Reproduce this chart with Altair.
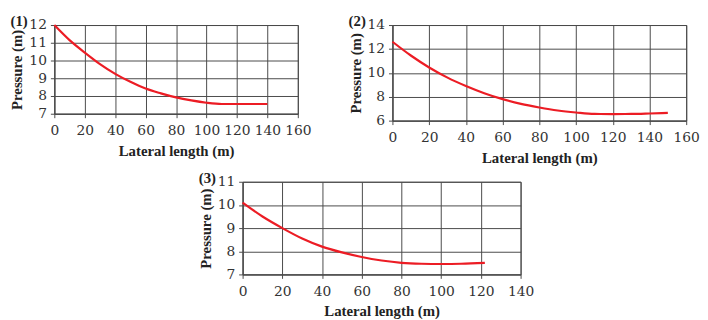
import altair as alt
import pandas as pd

# Panel (1)
x1 = [0, 10, 20, 30, 40, 50, 60, 70, 80, 90, 100, 110, 120, 130, 140]
y1 = [12.0, 11.15, 10.45, 9.8, 9.25, 8.8, 8.42, 8.15, 7.92, 7.75, 7.62, 7.55, 7.55, 7.55, 7.55]
# Panel (2)
x2 = [0, 10, 20, 30, 40, 50, 60, 70, 80, 90, 100, 110, 120, 130, 140, 150]
y2 = [12.6, 11.45, 10.45, 9.6, 8.9, 8.3, 7.8, 7.4, 7.1, 6.85, 6.68, 6.56, 6.55, 6.56, 6.6, 6.65]
# Panel (3)
x3 = [0, 10, 20, 30, 40, 50, 60, 70, 80, 90, 100, 110, 122]
y3 = [10.1, 9.5, 9.0, 8.55, 8.2, 7.95, 7.75, 7.6, 7.5, 7.46, 7.45, 7.46, 7.5]

labels = ["(1)", "(2)", "(3)"]

TICKFONT = "DejaVu Serif"
TITLEFONT = "Liberation Serif"
GRID = "#4a4a4a"
RED = "#ec1c24"


def panel(xs, ys, xdom, xstep, ydom, yticks, w, h, label):
    df = pd.DataFrame({"x": xs, "y": ys})
    xticks = list(range(xdom[0], xdom[1] + 1, xstep))
    line = alt.Chart(df).mark_line(color=RED, strokeWidth=2.2, interpolate="monotone").encode(
        x=alt.X("x:Q", scale=alt.Scale(domain=xdom, nice=False),
                axis=alt.Axis(values=xticks, title="Lateral length (m)", format="d",
                              labelPadding=6, titlePadding=6)),
        y=alt.Y("y:Q", scale=alt.Scale(domain=ydom, nice=False, zero=False),
                axis=alt.Axis(values=yticks, title="Pressure (m)", format="d",
                              labelPadding=4, titlePadding=4)),
    )
    lab = alt.Chart(pd.DataFrame({"t": [label]})).mark_text(
        font=TITLEFONT, fontWeight="bold", fontSize=15, align="right", baseline="bottom", color="#222"
    ).encode(text="t:N", x=alt.value(-27), y=alt.value(4))
    return alt.layer(line, lab).properties(width=w, height=h)


p1 = panel(x1, y1, [0, 160], 20, [7, 12], [7, 8, 9, 10, 11, 12], 247, 90, labels[0])
p2 = panel(x2, y2, [0, 160], 20, [6, 14], [6, 8, 10, 12, 14], 298, 97, labels[1])
p3 = panel(x3, y3, [0, 140], 20, [7, 11], [7, 8, 9, 10, 11], 282, 94, labels[2])

# empty spacer to push the third panel to the right
spacer = alt.Chart(pd.DataFrame({"t": [0]})).mark_point(opacity=0).encode(
    x=alt.value(0), y=alt.value(0)
).properties(width=144, height=1, view=alt.ViewBackground(stroke="transparent"))

chart = alt.vconcat(
    alt.hconcat(p1, p2, spacing=36),
    alt.hconcat(spacer, p3, spacing=0),
    spacing=4,
).configure(background="white", padding={"left": 1, "top": 3, "right": 0, "bottom": 0}).configure_view(
    stroke=GRID, strokeWidth=1
).configure_axis(
    grid=True, gridColor=GRID, gridOpacity=1, gridWidth=1,
    domainColor=GRID, tickColor=GRID, tickSize=4,
    labelFont=TICKFONT, labelFontSize=14, labelColor="#333",
    labelOverlap=False, labelBound=False, labelFlush=False,
    titleFont=TITLEFONT, titleFontSize=15, titleFontWeight="bold", titleColor="#222",
)

chart.save("out.html", embed_options={"renderer": "svg", "actions": False})
